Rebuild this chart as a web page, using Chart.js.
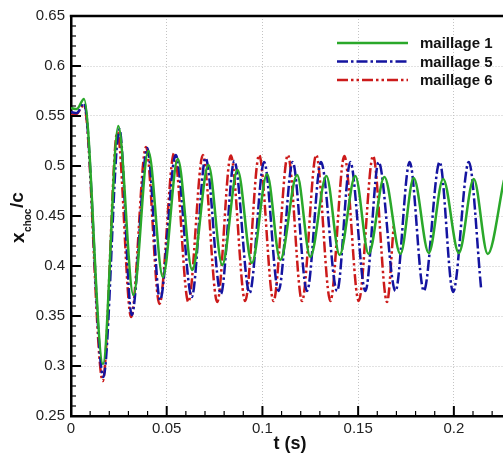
<!DOCTYPE html>
<html>
<head>
<meta charset="utf-8">
<script src="https://cdn.jsdelivr.net/npm/chart.js@4.4.1/dist/chart.umd.min.js"></script>
<style>
  html, body { margin: 0; padding: 0; overflow: hidden; background: #fff; }
  #wrap { width: 540px; height: 455px; position: relative; }
</style>
</head>
<body>
<div id="wrap"><canvas id="chart"></canvas></div>
<script>
    // t (s) and x_choc/c, peaks and troughs
    const tM1 = [0, 0.003, 0.0068, 0.0167, 0.0247, 0.0326, 0.0404, 0.0480, 0.0558, 0.0633, 0.0718, 0.0790,
                 0.0870, 0.0945, 0.1024, 0.1093, 0.1181, 0.1250, 0.1334, 0.1403, 0.1485, 0.1555, 0.1637,
                 0.1721, 0.1790, 0.1869, 0.1944, 0.2026, 0.2104, 0.2177, 0.2262];
    const vM1 = [0.558, 0.557, 0.567, 0.302, 0.540, 0.371, 0.515, 0.389, 0.507, 0.396, 0.501, 0.401,
                 0.496, 0.403, 0.492, 0.406, 0.491, 0.409, 0.490, 0.411, 0.490, 0.412, 0.489,
                 0.412, 0.488, 0.413, 0.487, 0.413, 0.487, 0.412, 0.486];

    const tM5 = [0, 0.003, 0.0068, 0.0169, 0.0253, 0.0317, 0.0399, 0.0465, 0.0547, 0.0631, 0.0703, 0.0783,
                 0.0853, 0.0933, 0.1009, 0.1084, 0.1158, 0.1233, 0.1306, 0.1390, 0.1459, 0.1538, 0.1607,
                 0.1695, 0.1769, 0.1843, 0.1926, 0.1996, 0.2078, 0.2143];
    const vM5 = [0.554, 0.553, 0.563, 0.289, 0.537, 0.351, 0.518, 0.366, 0.511, 0.369, 0.508, 0.372,
                 0.505, 0.373, 0.504, 0.375, 0.504, 0.375, 0.504, 0.375, 0.504, 0.375, 0.504,
                 0.375, 0.504, 0.375, 0.504, 0.374, 0.504, 0.376];

    const tM6 = [0, 0.003, 0.0068, 0.0166, 0.0242, 0.0314, 0.0392, 0.0462, 0.0539, 0.0613, 0.0689, 0.0764,
                 0.0835, 0.0910, 0.0983, 0.1058, 0.1133, 0.1207, 0.1281, 0.1355, 0.1428, 0.1503, 0.1578,
                 0.1651, 0.1686];
    const vM6 = [0.551, 0.552, 0.561, 0.285, 0.534, 0.349, 0.519, 0.362, 0.513, 0.364, 0.511, 0.364,
                 0.5105, 0.365, 0.511, 0.365, 0.511, 0.365, 0.511, 0.365, 0.510, 0.365, 0.510,
                 0.364, 0.441];

    const labels = ['maillage 1', 'maillage 5', 'maillage 6'];
    const xTicks = [0, 0.05, 0.1, 0.15, 0.2];
    const yTicks = [0.25, 0.3, 0.35, 0.4, 0.45, 0.5, 0.55, 0.6, 0.65];

    const FONT = '"Liberation Sans", Arial, Helvetica, sans-serif';
    const pts = (t, v) => t.map((x, i) => ({ x, y: v[i] }));
    const fmt = v => String(+(+v).toFixed(2));

    const SERIES = [
        { t: tM1, v: vM1, color: '#2aa82a', dash: [] },
        { t: tM5, v: vM5, color: '#1414a0', dash: [11, 3, 2.5, 3] },
        { t: tM6, v: vM6, color: '#cc1a1a', dash: [11, 3, 2.5, 3, 2.5, 3] },
    ];

    // inward ticks, top frame line, legend and axis titles
    const decor = {
        id: 'decor',
        afterDraw(chart) {
            const { ctx, chartArea: a, scales: { x, y } } = chart;
            const seg = (x1, y1, x2, y2) => { ctx.beginPath(); ctx.moveTo(x1, y1); ctx.lineTo(x2, y2); ctx.stroke(); };
            ctx.save();
            ctx.strokeStyle = '#000';
            for (let i = 0; i <= 24; i++) {
                const px = x.getPixelForValue(i / 100);
                const major = i % 5 === 0;
                ctx.lineWidth = major ? 2 : 1.2;
                seg(px, a.bottom, px, a.bottom - (major ? 10 : 5));
            }
            for (let i = 25; i <= 65; i++) {
                const py = y.getPixelForValue(i / 100);
                const major = i % 5 === 0;
                ctx.lineWidth = major ? 2 : 1.2;
                seg(a.left, py, a.left + (major ? 10 : 5), py);
            }
            ctx.lineWidth = 2.5;
            seg(a.left - 1.2, a.top, chart.width, a.top);

            // legend
            chart.data.datasets.forEach((ds, i) => {
                const ly = 43 + i * 18.5;
                ctx.strokeStyle = ds.borderColor;
                ctx.lineWidth = 2.5;
                ctx.setLineDash(ds.borderDash);
                seg(337, ly, 408, ly);
                ctx.setLineDash([]);
                ctx.fillStyle = '#111';
                ctx.font = 'bold 15px ' + FONT;
                ctx.textBaseline = 'middle';
                ctx.fillText(ds.label, 420, ly + 1);
            });

            // x title
            ctx.fillStyle = '#111';
            ctx.textAlign = 'center';
            ctx.textBaseline = 'middle';
            ctx.font = 'bold 18px ' + FONT;
            ctx.fillText('t (s)', 290, 444);

            // y title: x_choc / c
            ctx.translate(24, 243);
            ctx.rotate(-Math.PI / 2);
            ctx.textAlign = 'left';
            ctx.textBaseline = 'alphabetic';
            ctx.font = 'bold 19px ' + FONT;
            ctx.fillText('x', 0, 0);
            let w = ctx.measureText('x').width;
            ctx.font = 'bold 10px ' + FONT;
            ctx.fillText('choc', w + 0.5, 7);
            w += ctx.measureText('choc').width + 1;
            ctx.font = 'bold 19px ' + FONT;
            ctx.fillText('/c', w, -1);
            ctx.restore();
        }
    };

    new Chart(document.getElementById('chart').getContext('2d'), {
        type: 'line',
        data: {
            datasets: SERIES.map((s, i) => ({
                label: labels[i],
                data: pts(s.t, s.v),
                borderColor: s.color,
                backgroundColor: s.color,
                borderDash: s.dash,
                borderWidth: 2.5,
                pointRadius: 0,
                fill: false,
                cubicInterpolationMode: 'monotone',
            })),
        },
        options: {
            responsive: true,
            maintainAspectRatio: false,
            animation: false,
            layout: { padding: { top: 16, right: 0, bottom: 0, left: 0 } },
            plugins: { legend: { display: false }, tooltip: { enabled: false } },
            scales: {
                x: {
                    type: 'linear',
                    min: 0,
                    max: 0.245,
                    afterBuildTicks: sc => { sc.ticks = xTicks.map(value => ({ value })); },
                    afterFit: sc => { sc.height = 39; },
                    grid: { color: '#c4c4c4', lineWidth: 1, drawTicks: false },
                    border: { display: true, color: '#000', width: 2.5, dash: [1, 2] },
                    ticks: { padding: 4, color: '#222', maxRotation: 0, font: { family: FONT, size: 15 }, callback: fmt },
                },
                y: {
                    type: 'linear',
                    min: 0.25,
                    max: 0.65,
                    afterBuildTicks: sc => { sc.ticks = yTicks.map(value => ({ value })); },
                    afterFit: sc => { sc.width = 71; },
                    grid: { color: '#c4c4c4', lineWidth: 1, drawTicks: false },
                    border: { display: true, color: '#000', width: 2.5, dash: [1, 2] },
                    ticks: { padding: 6, color: '#222', font: { family: FONT, size: 15 }, callback: fmt },
                },
            },
        },
        plugins: [decor],
    });
</script>
</body>
</html>
